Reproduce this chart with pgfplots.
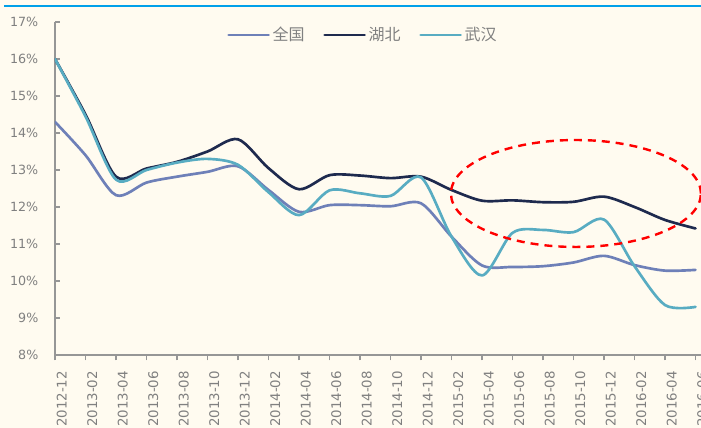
\documentclass[border=0pt]{standalone}
\usepackage{fontspec}
\setmainfont{DejaVu Sans}
\newfontfamily\cjk{Noto Sans CJK SC}
\usepackage{pgfplots}
\pgfplotsset{compat=1.18}

\definecolor{bgcream}{RGB}{255,251,240}
\definecolor{topblue}{RGB}{0,160,233}
\definecolor{quanguo}{RGB}{110,128,184}
\definecolor{hubei}{RGB}{30,42,78}
\definecolor{wuhan}{RGB}{88,172,194}
\definecolor{axisgray}{RGB}{150,150,150}
\definecolor{labelgray}{RGB}{128,128,128}

% x index: 0 = 2012-12, one step per two months
\pgfplotstableread{
x  quanguo hubei wuhan
0  14.30  16.00  16.00
1  13.40  14.50  14.45
2  12.32  12.82  12.74
3  12.66  13.04  13.00
4  12.82  13.22  13.20
5  12.95  13.50  13.30
6  13.10  13.83  13.14
7  12.46  13.05  12.40
8  11.87  12.48  11.78
9  12.05  12.86  12.45
10 12.05  12.85  12.37
11 12.02  12.78  12.30
12 12.10  12.82  12.80
13 11.20  12.46  11.20
14 10.42  12.17  10.15
15 10.38  12.18  11.30
16 10.40  12.13  11.38
17 10.50  12.14  11.32
18 10.68  12.28  11.66
19 10.43  12.00  10.40
20 10.28  11.65  9.35
21 10.30  11.42  9.30
}\rates

\begin{document}
\begin{tikzpicture}
\useasboundingbox (0,0) rectangle (525.75pt,321pt);
\clip (0,0) rectangle (525.75pt,321pt);
\fill[bgcream] (0,0) rectangle (525.75pt,321pt);
\draw[topblue, line width=1.5pt] (3pt,316.5pt) -- (530pt,316.5pt);
\begin{axis}[
  at={(41.25pt,54.75pt)}, anchor=south west,
  scale only axis, width=491.8125pt, height=249.75pt,
  xmin=0, xmax=21.5, ymin=8, ymax=17,
  axis x line*=bottom, axis y line*=left,
  axis line style={axisgray, line width=1.1pt, -},
  xtick={0,...,21},
  xticklabels={2012-12,2013-02,2013-04,2013-06,2013-08,2013-10,2013-12,2014-02,2014-04,2014-06,2014-08,2014-10,2014-12,2015-02,2015-04,2015-06,2015-08,2015-10,2015-12,2016-02,2016-04,2016-06},
  ytick={8,...,17},
  yticklabels={8\%,9\%,10\%,11\%,12\%,13\%,14\%,15\%,16\%,17\%},
  tick style={axisgray, line width=1pt},
  major tick length=4pt,
  xtick align=outside, ytick align=inside,
  tick label style={text=labelgray},
  yticklabel style={font=\fontsize{9.5}{11}\selectfont, anchor=east, xshift=-9pt},
  xticklabel style={font=\fontsize{10}{11}\selectfont, rotate=90, anchor=east, yshift=-5pt, xshift=-4.5pt},
  legend columns=3,
  legend style={at={(0.2623,0.961)}, anchor=west, draw=none, fill=none,
    inner sep=0pt, font=\cjk\fontsize{12}{14}\selectfont, text=labelgray,
    nodes={inner sep=1pt},
    /tikz/every odd column/.append style={column sep=1pt},
    /tikz/every even column/.append style={column sep=13pt}},
  legend image code/.code={\draw[#1] (0pt,0pt) -- (30pt,0pt);},
  every axis plot/.append style={line width=2pt, line cap=round, line join=round},
]
\addplot[quanguo, smooth] table[x=x, y=quanguo] {\rates};
\addlegendentry{全国}
\addplot[hubei, smooth] table[x=x, y=hubei] {\rates};
\addlegendentry{湖北}
\addplot[wuhan, smooth] table[x=x, y=wuhan] {\rates};
\addlegendentry{武汉}
\draw[red, line width=1.8pt, dash pattern=on 6pt off 4.5pt]
  (axis cs:17.08,12.365) ellipse [x radius=93.75pt, y radius=40.1pt];
\end{axis}
\end{tikzpicture}
\end{document}
